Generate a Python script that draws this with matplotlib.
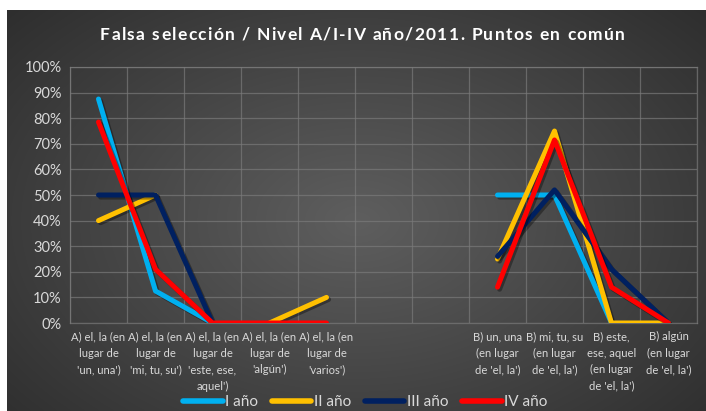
import numpy as np
import matplotlib
matplotlib.use("Agg")
import matplotlib.pyplot as plt
import matplotlib.patheffects as pe
from matplotlib.textpath import TextPath
from matplotlib.font_manager import FontProperties

plt.rcParams['font.family'] = ['Lato', 'DejaVu Sans']

categories = [
    "A) el, la (en\nlugar de\n'un, una')",
    "A) el, la (en\nlugar de\n'mi, tu, su')",
    "A) el, la (en\nlugar de\n'este, ese,\naquel')",
    "A) el, la (en\nlugar de\n'algún')",
    "A) el, la (en\nlugar de\n'varios')",
    "",
    "",
    "B) un, una\n(en lugar\nde 'el, la')",
    "B) mi, tu, su\n(en lugar\nde 'el, la')",
    "B) este,\nese, aquel\n(en lugar\nde 'el, la')",
    "B) algún\n(en lugar\nde 'el, la')",
]
nan = np.nan
series_names = ["I año", "II año", "III año", "IV año"]
I_anio   = [0.875, 0.125, 0.0, nan, nan, nan, nan, 0.50, 0.50, 0.0, nan]
II_anio  = [0.40, 0.50, nan, 0.0, 0.10, nan, nan, 0.25, 0.75, 0.0, 0.0]
III_anio = [0.50, 0.50, 0.0, nan, nan, nan, nan, 0.26, 0.52, 0.21, 0.0]
IV_anio  = [0.785, 0.21, 0.0, 0.0, 0.0, nan, nan, 0.14, 0.715, 0.14, 0.0]
colors = ["#00B0F0", "#FFC000", "#002060", "#FF0000"]
yticks = [0, 0.1, 0.2, 0.3, 0.4, 0.5, 0.6, 0.7, 0.8, 0.9, 1.0]
ytick_labels = ["0%", "10%", "20%", "30%", "40%", "50%", "60%", "70%", "80%", "90%", "100%"]
title = "Falsa selección / Nivel A/I-IV año/2011. Puntos en común"

W, H = 706, 411
fig = plt.figure(figsize=(W / 100, H / 100), dpi=100)
fig.patch.set_facecolor("white")

# background with radial gradient
bg = fig.add_axes([7 / W, 0, (W - 7) / W, (H - 10) / H])
bg.set_axis_off()
yy, xx = np.mgrid[0:200, 0:350]
cx, cy = 175, 105
r = np.sqrt(((xx - cx) / 350) ** 2 + ((yy - cy) / 230) ** 2)
val = 0.37 - 0.28 * r
val = np.clip(val, 0.15, 0.4)
img = np.dstack([val, val, val])
bg.imshow(img, aspect="auto", extent=[0, 1, 0, 1], interpolation="bilinear")
bg.set_xlim(0, 1)
bg.set_ylim(0, 1)

ax = fig.add_axes([70 / W, 1 - 323 / H, (697 - 70) / W, (323 - 67) / H])
ax.patch.set_alpha(0)

x = np.arange(len(categories))
all_series = [I_anio, II_anio, III_anio, IV_anio]
for name, vals, c in zip(series_names, all_series, colors):
    ax.plot(x, vals, color=c, lw=3.6, label=name, solid_capstyle="round",
            solid_joinstyle="round", zorder=3,
            path_effects=[pe.SimpleLineShadow(offset=(1.5, -1.5), alpha=0.35, shadow_color="black"),
                          pe.Normal()])

ax.set_xlim(-0.5, len(categories) - 0.5)
ax.set_ylim(0, 1.0)
ax.set_yticks(yticks)
ax.set_yticklabels(ytick_labels)
ax.set_xticks(x)
ax.set_xticklabels(categories, fontsize=8.1, color="#d9d9d9", linespacing=1.6, va="top")
ax.set_xticks(np.arange(-0.5, len(categories), 1), minor=True)
ax.tick_params(axis="x", which="both", length=0, pad=6)
ax.tick_params(axis="y", length=0, labelsize=10.5, labelcolor="#d9d9d9", pad=6)
ax.grid(True, which="minor", axis="x", color="#7a7a7a", lw=0.9, alpha=0.7)
ax.grid(True, which="major", axis="y", color="#7a7a7a", lw=0.9, alpha=0.7)
for s in ax.spines.values():
    s.set_color("#7a7a7a")
    s.set_linewidth(0.9)
    s.set_alpha(0.7)

# letter-spaced title
tfs = 12.5
fp = FontProperties(family=['Lato', 'DejaVu Sans'], weight="bold", size=tfs)
widths = []
for ch in title:
    if ch == " ":
        widths.append(TextPath((0, 0), "a a", prop=fp).get_extents().width
                      - TextPath((0, 0), "aa", prop=fp).get_extents().width)
    else:
        tp = TextPath((0, 0), "|" + ch + "|", prop=fp)
        tb = TextPath((0, 0), "||", prop=fp)
        widths.append(tp.get_extents().width - tb.get_extents().width)
widths = np.array(widths) * 100 / 72  # points -> px
target_w = 525
gap = (target_w - widths.sum()) / (len(title) - 1)
xpos = 100
for ch, w in zip(title, widths):
    fig.text(xpos / W, 1 - 35 / H, ch, ha="left", va="center", color="white",
             fontsize=tfs, fontweight="bold")
    xpos += w + gap

leg = fig.legend(loc="center", bbox_to_anchor=(365 / W, 1 - 402 / H), ncol=4, frameon=False,
                 fontsize=11, labelcolor="#d9d9d9", handlelength=2.6, handletextpad=0.15,
                 columnspacing=0.9)
for h in leg.legend_handles:
    h.set_linewidth(4)
    h.set_path_effects([])

fig.savefig("out.png", dpi=100, facecolor=fig.get_facecolor())
